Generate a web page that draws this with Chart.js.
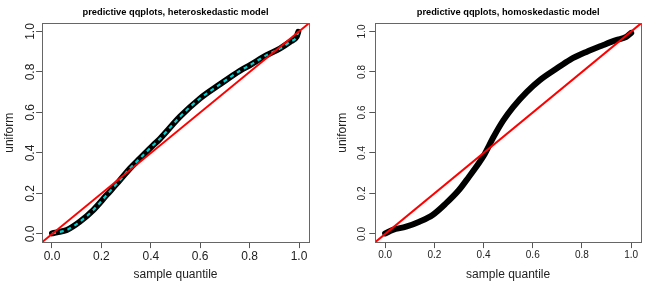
<!DOCTYPE html>
<html><head><meta charset="utf-8">
<script src="https://cdn.jsdelivr.net/npm/chart.js@4/dist/chart.umd.min.js"></script>
<style>
html,body{margin:0;padding:0;background:#fff;overflow:hidden;}
#w{position:relative;width:665px;height:285px;}
.c{position:absolute;top:0;width:332px;height:285px;}
</style></head><body>
<div id="w">
<div class="c" style="left:0"><canvas id="c1" width="332" height="285"></canvas></div>
<div class="c" style="left:333px"><canvas id="c2" width="332" height="285"></canvas></div>
</div>
<script>
const titleLeft = 'predictive qqplots, heteroskedastic model';
const titleRight = 'predictive qqplots, homoskedastic model';
const xTitle = 'sample quantile';
const yTitle = 'uniform';
const tickValues = [0, 0.2, 0.4, 0.6, 0.8, 1.0];
const axisRange = [-0.04, 1.04];

const heteroX = [0, 0.02, 0.06, 0.113, 0.167, 0.221, 0.275, 0.316, 0.356, 0.41, 0.437, 0.518, 0.599, 0.680, 0.761, 0.802, 0.869, 0.923, 0.964, 0.99, 0.997];
const heteroY = [0.003, 0.008, 0.02, 0.061, 0.118, 0.192, 0.266, 0.324, 0.373, 0.439, 0.470, 0.579, 0.669, 0.739, 0.806, 0.834, 0.883, 0.916, 0.949, 0.973, 0.998];

const homoX = [0, 0.031, 0.085, 0.139, 0.193, 0.247, 0.30, 0.341, 0.382, 0.40, 0.441, 0.481, 0.521, 0.576, 0.629, 0.697, 0.751, 0.818, 0.885, 0.939, 0.98, 1.0];
const homoY = [0.003, 0.02, 0.036, 0.061, 0.094, 0.151, 0.217, 0.283, 0.352, 0.385, 0.48, 0.562, 0.628, 0.702, 0.76, 0.817, 0.86, 0.899, 0.932, 0.957, 0.973, 0.993];

const FONT = "'Liberation Sans', Arial, Helvetica, sans-serif";

const boxPlugin = {
  id: 'rbox',
  afterDatasetsDraw(chart) {
    const a = chart.chartArea, c = chart.ctx;
    c.save();
    c.strokeStyle = '#666';
    c.lineWidth = 1;
    c.strokeRect(Math.round(a.left) + 0.5, Math.round(a.top) + 0.5,
                 Math.round(a.right) - Math.round(a.left), Math.round(a.bottom) - Math.round(a.top));
    c.restore();
  }
};

function pts(xs, ys) { return xs.map((x, i) => ({x: x, y: ys[i]})); }

function make(id, title, xs, ys, dashed, o) {
  const datasets = [
    {data: pts(axisRange, axisRange), borderColor: '#ff0000', borderWidth: 2, pointRadius: 0, order: 0},
  ];
  if (dashed) datasets.push({data: pts(xs, ys), borderColor: '#00cdcd', borderWidth: 2.2, borderDash: [4, 4],
    pointRadius: 0, cubicInterpolationMode: 'monotone', order: 1});
  datasets.push({data: pts(xs, ys), borderColor: '#000', borderWidth: 6, pointRadius: 0,
    borderCapStyle: 'round', borderJoinStyle: 'round', cubicInterpolationMode: 'monotone', order: 2});

  const setTicks = s => { s.ticks = tickValues.map(v => ({value: v})); };
  new Chart(document.getElementById(id), {
    type: 'line',
    data: {datasets},
    plugins: [boxPlugin],
    options: {
      responsive: false, animation: false, devicePixelRatio: 1,
      layout: {padding: {left: 0, right: o.right, top: 0, bottom: 0}},
      plugins: {
        legend: {display: false}, tooltip: {enabled: false},
        title: {display: true, text: title, fullSize: false, color: '#000',
          font: {family: FONT, size: 9.3, weight: 'bold', lineHeight: 1.2},
          padding: {top: 7, bottom: 5.2}}
      },
      scales: {
        x: {type: 'linear', min: axisRange[0], max: axisRange[1],
          afterBuildTicks: setTicks,
          afterFit: s => { s.height = 42.9; },
          border: {display: false},
          grid: {drawOnChartArea: false, drawTicks: true, tickLength: 6, color: '#555'},
          ticks: {color: '#222', padding: o.xPad, maxRotation: 0, autoSkip: false,
            font: {family: FONT, size: o.tick}, callback: v => v.toFixed(1)},
          title: {display: true, text: xTitle, color: '#222', font: {family: FONT, size: 12, lineHeight: 1.2},
            padding: {top: 0, bottom: 2.8}}
        },
        y: {type: 'linear', min: axisRange[0], max: axisRange[1],
          afterBuildTicks: setTicks,
          afterFit: s => { s.width = o.left; },
          border: {display: false},
          grid: {drawOnChartArea: false, drawTicks: true, tickLength: 6, color: '#555'},
          ticks: {color: '#222', padding: o.yPad, minRotation: 90, maxRotation: 90, crossAlign: 'center', autoSkip: false,
            font: {family: FONT, size: o.tick}, callback: v => v.toFixed(1)},
          title: {display: true, text: yTitle, color: '#222', font: {family: FONT, size: 12, lineHeight: 1.2},
            padding: {top: 2.3, bottom: 0}}
        }
      }
    }
  });
}

make('c1', titleLeft, heteroX, heteroY, true, {right: 23.1, left: 42.1, tick: 12, xPad: 1, yPad: -2.7});
make('c2', titleRight, homoX, homoY, false, {right: 24, left: 42.3, tick: 10, xPad: 1.5, yPad: 0.4});
</script>
</body></html>
